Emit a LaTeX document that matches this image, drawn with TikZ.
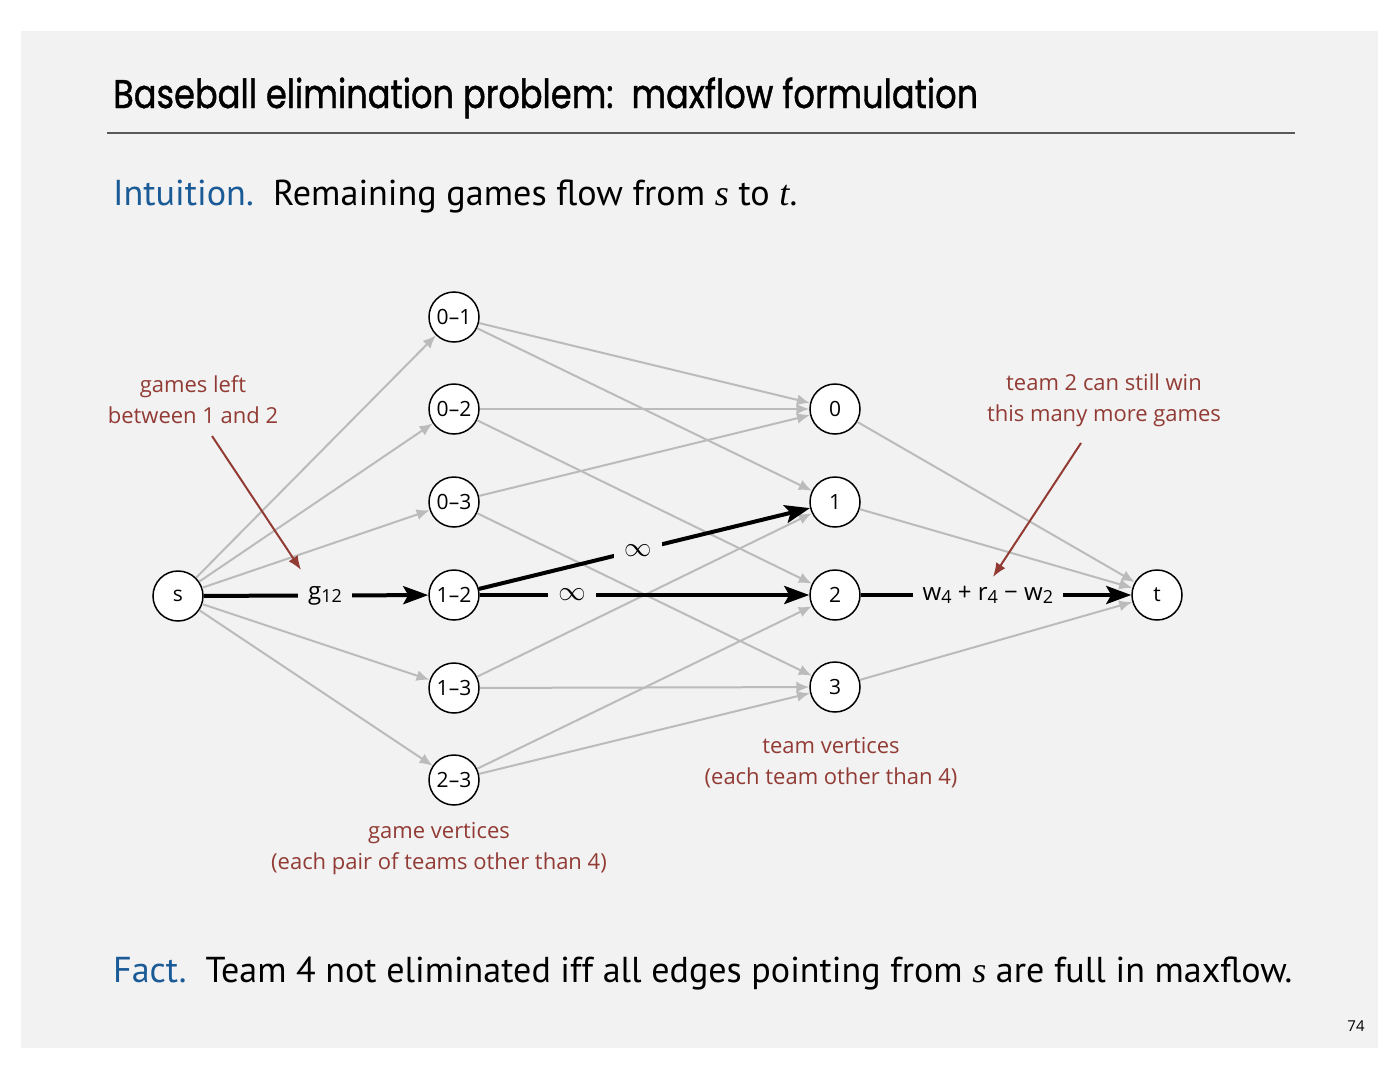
\documentclass[tikz,border=0pt]{standalone}
\usepackage{fontspec}
\usepackage{graphicx}
\setmainfont{PT Sans}
\newfontfamily\titlefont{Poppins}[FakeBold=1.2]
\newfontfamily\labfont{Open Sans}
\newfontfamily\seriffam{Liberation Serif}
\usetikzlibrary{arrows.meta}
\definecolor{bg}{HTML}{F2F2F2}
\definecolor{slideblue}{HTML}{1A5A96}
\definecolor{annred}{HTML}{923B35}
\definecolor{edgegray}{HTML}{BBBBBB}
\newcommand{\vs}{{\seriffam\itshape s}}
\newcommand{\vt}{{\seriffam\itshape t}}
\newcommand{\sbs}[1]{\raisebox{-3pt}{\fontsize{18}{18}\selectfont #1}}
\newcommand{\infsym}{\scalebox{1.1}{$\infty$}}
\begin{document}
\begin{tikzpicture}[x=1pt,y=-1pt,
  vert/.style={circle, draw, line width=1.5pt, fill=white, minimum size=50pt, inner sep=0pt, font=\labfont\fontsize{21}{24}\selectfont},
  grayedge/.style={draw=edgegray, line width=2pt, -{Latex[length=13pt,width=11pt]}},
  flowedge/.style={draw=black, line width=4pt, -{Stealth[length=25pt,width=18pt,inset=5pt]}},
  wtlabel/.style={fill=bg, inner xsep=10pt, inner ysep=3pt, font=\labfont\fontsize{24}{26}\selectfont},
  annot/.style={text=annred, font=\labfont\fontsize{22}{31}\selectfont, align=center},
  annarrow/.style={draw=annred, line width=2pt, -{Latex[length=14pt,width=11pt]}},
  bigtext/.style={anchor=base west, inner sep=0pt, font=\fontsize{36}{42}\selectfont}
]
\useasboundingbox (0,0) rectangle (1400,1081);
\fill[white] (0,0) rectangle (1400,1081);
\fill[bg] (21,31) rectangle (1378,1048);

% title
\node[anchor=base west, inner sep=0pt] (title) at (113,108)
  {\resizebox{865pt}{\height}{\titlefont\fontsize{40}{48}\selectfont Baseball elimination problem:\ \ maxflow formulation}};
\coordinate (ruleL) at (107,133);
\coordinate (ruleR) at (1295,133);
\draw[line width=1.5pt, draw=black!65] (ruleL) -- (ruleR);

\node[bigtext] (intu) at (113,205) {\resizebox{684pt}{\height}{\textcolor{slideblue}{Intuition.}\ \ Remaining games flow from \vs\ to \vt.}};
\node[bigtext] (fact) at (113,982) {\resizebox{1179pt}{\height}{\textcolor{slideblue}{Fact.}\ \ Team 4 not eliminated iff all edges pointing from \vs\ are full in maxflow.}};
\node[anchor=base, inner sep=0pt, font=\labfont\fontsize{15}{18}\selectfont] (pg) at (1356,1031) {74};

% vertices
\node[vert] (s) at (178,596) {s};
\node[vert] (g01) at (454,317) {0–1};
\node[vert] (g02) at (454,409) {0–2};
\node[vert] (g03) at (454,502) {0–3};
\node[vert] (g12) at (454,595) {1–2};
\node[vert] (g13) at (454,688) {1–3};
\node[vert] (g23) at (454,780) {2–3};
\node[vert] (v0) at (835,409) {0};
\node[vert] (v1) at (835,502) {1};
\node[vert] (v2) at (835,595) {2};
\node[vert] (v3) at (835,687) {3};
\node[vert] (t) at (1157,595) {t};

% gray edges
\foreach \g in {g01,g02,g03,g13,g23} \draw[grayedge] (s) -- (\g);
\draw[grayedge] (g01) -- (v0);
\draw[grayedge] (g01) -- (v1);
\draw[grayedge] (g02) -- (v0);
\draw[grayedge] (g02) -- (v2);
\draw[grayedge] (g03) -- (v0);
\draw[grayedge] (g03) -- (v3);
\draw[grayedge] (g13) -- (v1);
\draw[grayedge] (g13) -- (v3);
\draw[grayedge] (g23) -- (v2);
\draw[grayedge] (g23) -- (v3);
\draw[grayedge] (v0) -- (t);
\draw[grayedge] (v1) -- (t);
\draw[grayedge] (v3) -- (t);

% flow edges
\draw[flowedge] (s) -- node[wtlabel, pos=0.54] (lg) {g\sbs{12}} (g12);
\draw[flowedge] (g12) -- node[wtlabel, pos=0.48] (linf1) {\infsym} (v1);
\draw[flowedge] (g12) -- node[wtlabel, pos=0.28] (linf2) {\infsym} (v2);
\draw[flowedge] (v2) -- node[wtlabel, pos=0.47] (lw) {w\sbs{4} + r\sbs{4} − w\sbs{2}} (t);

% annotations
\node[annot] (a1) at (193,400) {games left\\between 1 and 2};
\coordinate (a1s) at (212,436);
\coordinate (a1e) at (301,570);
\draw[annarrow] (a1s) -- (a1e);
\node[annot] (a2) at (1104,400) {team 2 can still win\\this many more games};
\coordinate (a2s) at (1081,443);
\coordinate (a2e) at (993,577);
\draw[annarrow] (a2s) -- (a2e);
\node[annot] (a3) at (831,763) {team vertices\\(each team other than 4)};
\node[annot] (a4) at (439,849) {game vertices\\(each pair of teams other than 4)};
\end{tikzpicture}
\end{document}
